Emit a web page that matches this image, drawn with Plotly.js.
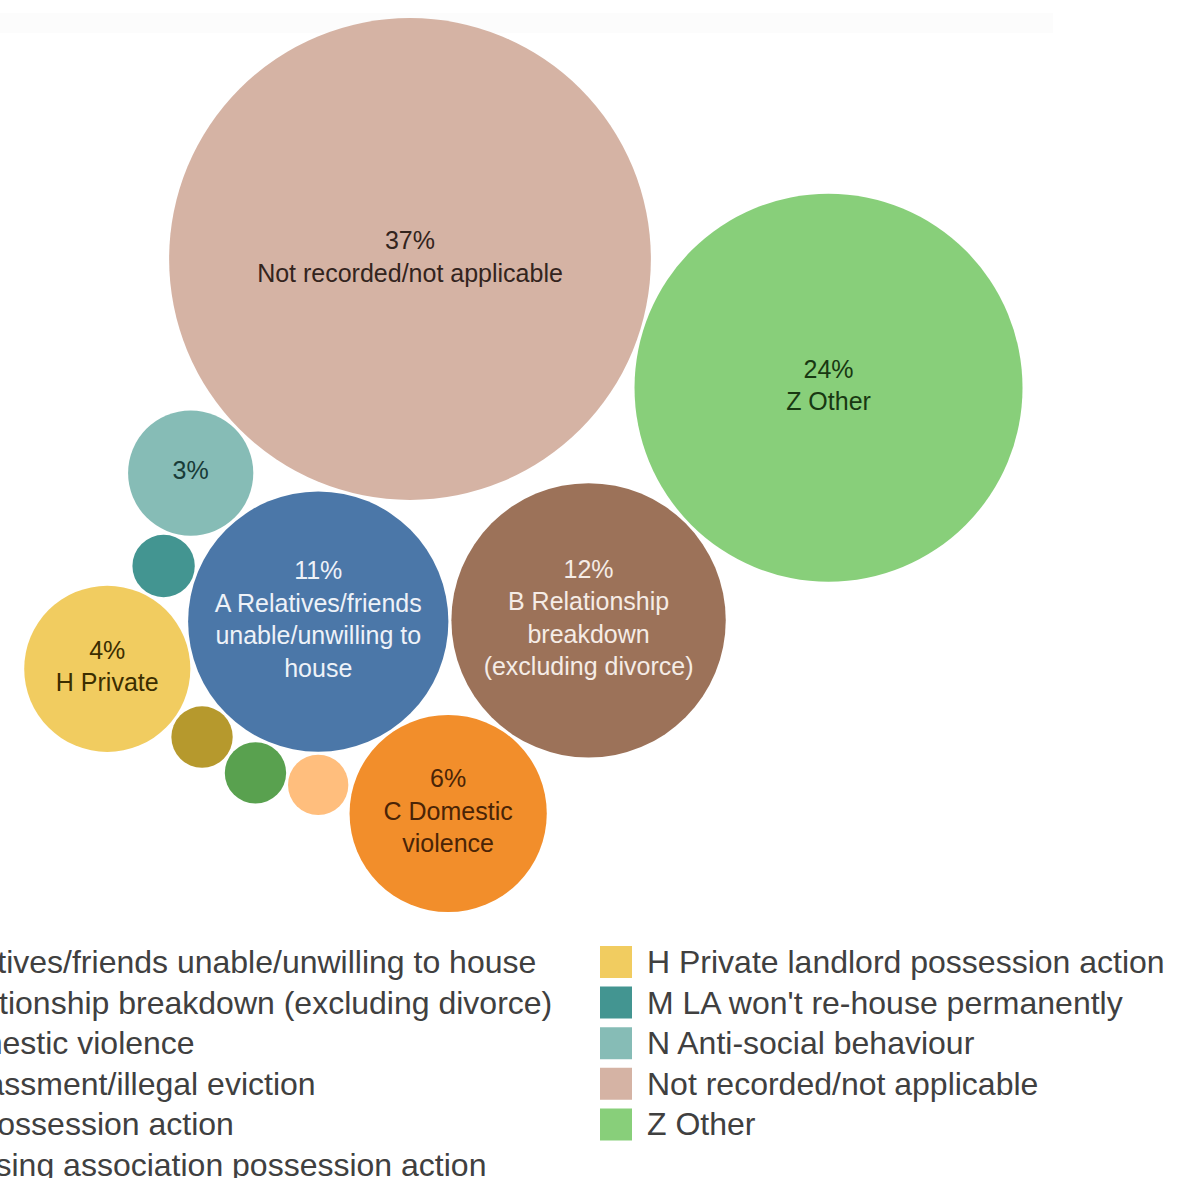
<!DOCTYPE html>
<html>
<head>
<meta charset="utf-8">
<script src="https://cdn.plot.ly/plotly-3.0.1.min.js"></script>
<style>
  html, body { margin: 0; padding: 0; background: #ffffff; overflow: hidden; }
  #chart { width: 1184px; height: 1178px; }
</style>
</head>
<body>
<div id="chart"></div>
<script>
// ---------------- DATA ----------------
const categories = [
  "Not recorded/not applicable",
  "Z Other",
  "A Relatives/friends unable/unwilling to house",
  "B Relationship breakdown (excluding divorce)",
  "C Domestic violence",
  "N Anti-social behaviour",
  "M LA won't re-house permanently",
  "H Private landlord possession action",
  "G Housing association possession action",
  "E LA possession action",
  "D Harassment/illegal eviction"
];
// share of cases, %
const shares = [37, 24, 10.8, 12, 6.2, 2.5, 0.62, 4.4, 0.6, 0.6, 0.58];
// text shown inside each bubble under the percentage
const bubbleLabels = [
  "Not recorded/not applicable",
  "Z Other",
  "A Relatives/friends<br>unable/unwilling to<br>house",
  "B Relationship<br>breakdown<br>(excluding divorce)",
  "C Domestic<br>violence",
  "",
  "",
  "H Private",
  "",
  "",
  ""
];
// legend entries (two columns)
const legendLeft = [
  "A Relatives/friends unable/unwilling to house",
  "B Relationship breakdown (excluding divorce)",
  "C Domestic violence",
  "D Harassment/illegal eviction",
  "E LA possession action",
  "G Housing association possession action"
];
const legendRight = [
  "H Private landlord possession action",
  "M LA won't re-house permanently",
  "N Anti-social behaviour",
  "Not recorded/not applicable",
  "Z Other"
];

// ---------------- STYLE ----------------
const colorOf = {
  "Not recorded/not applicable": "#D5B3A4",
  "Z Other": "#88CF7A",
  "A Relatives/friends unable/unwilling to house": "#4B77A8",
  "B Relationship breakdown (excluding divorce)": "#9C7259",
  "C Domestic violence": "#F28E2B",
  "N Anti-social behaviour": "#86BCB6",
  "M LA won't re-house permanently": "#439591",
  "H Private landlord possession action": "#F1CC60",
  "G Housing association possession action": "#B6992D",
  "E LA possession action": "#59A14F",
  "D Harassment/illegal eviction": "#FFBE7D"
};
const textColorOf = {
  "Not recorded/not applicable": "#33241d",
  "Z Other": "#183812",
  "A Relatives/friends unable/unwilling to house": "#eef2f8",
  "B Relationship breakdown (excluding divorce)": "#f5ece6",
  "C Domestic violence": "#4a2406",
  "N Anti-social behaviour": "#183b38",
  "H Private landlord possession action": "#3b2d00"
};

const W = 1184, H = 1178;
const K = 39.6;        // px of radius per sqrt(%)
const PAD = 3;         // gap between neighbouring bubbles (px)

// packing topology: each bubble touches its parent(s)
const packing = [
  {root: true},
  {from: 0, angle: -17.1},
  {from: 0, angle: -104.2},
  {between: [2, 1]},
  {between: [2, 3]},
  {between: [0, 2]},
  {between: [5, 2]},
  {between: [6, 2]},
  {between: [7, 2]},
  {between: [8, 2]},
  {between: [9, 2]}
];

// ---------------- LAYOUT COMPUTATION ----------------
const radius = shares.map(v => K * Math.sqrt(v));
const cx = new Array(shares.length), cy = new Array(shares.length);
packing.forEach((p, i) => {
  if (p.root) { cx[i] = 0; cy[i] = 0; return; }
  if (p.from !== undefined) {
    const d = radius[p.from] + radius[i] + PAD;
    const a = p.angle * Math.PI / 180;
    cx[i] = cx[p.from] + d * Math.cos(a);
    cy[i] = cy[p.from] + d * Math.sin(a);
    return;
  }
  const [P, Q] = p.between;
  const a = radius[P] + radius[i] + PAD, b = radius[Q] + radius[i] + PAD;
  const dx = cx[Q] - cx[P], dy = cy[Q] - cy[P];
  const d = Math.hypot(dx, dy);
  const ux = dx / d, uy = dy / d;
  const x = (a * a - b * b + d * d) / (2 * d);
  const h = Math.sqrt(Math.max(0, a * a - x * x));
  // place on the right-hand side of P -> Q
  cx[i] = cx[P] + x * ux + h * uy;
  cy[i] = cy[P] + x * uy - h * ux;
});

const texts = shares.map((v, i) =>
  v >= 2 ? (Math.round(v) + "%" + (bubbleLabels[i] ? "<br>" + bubbleLabels[i] : "")) : "");

const bubbleTrace = {
  type: "scatter",
  mode: "markers+text",
  x: cx,
  y: cy,
  text: texts,
  customdata: categories,
  hovertemplate: "%{customdata}<extra></extra>",
  textposition: "middle center",
  textfont: {
    family: "Liberation Sans, Arial, sans-serif",
    size: 25,
    color: categories.map(c => textColorOf[c] || "#222")
  },
  marker: {
    size: shares,
    sizemode: "area",
    // marker diameter = 2*K*sqrt(share)
    sizeref: 1 / (2 * K * K),
    color: categories.map(c => colorOf[c]),
    opacity: 1,
    line: {width: 0}
  },
  showlegend: false,
  cliponaxis: false
};

// ---------------- MANUAL LEGEND ----------------
const FONT = "Liberation Sans, Arial, sans-serif";
const LEG_SIZE = 32;
const px2x = v => v / W, px2y = v => 1 - v / H;
const shapes = [
  {type: "rect", xref: "paper", yref: "paper", x0: px2x(0), x1: px2x(1053), y0: px2y(33), y1: px2y(13),
   fillcolor: "#fcfcfc", line: {width: 0}, layer: "below"}
];
const annotations = [];

function measure(str) {
  const c = document.createElement("canvas").getContext("2d");
  c.font = LEG_SIZE + "px 'Liberation Sans', Arial, sans-serif";
  return c.measureText(str).width;
}
const rowY = i => 962 + 40.6 * i;
const rightTextX = 646;
const leftTextX = -measure("A Rela") - 2;
const SW = 32;

function addEntry(label, textX, row) {
  const y = rowY(row);
  const sx1 = textX - 14, sx0 = sx1 - SW;
  shapes.push({type: "rect", xref: "paper", yref: "paper",
    x0: px2x(sx0), x1: px2x(sx1), y0: px2y(y + SW / 2), y1: px2y(y - SW / 2),
    fillcolor: colorOf[label], line: {width: 0}});
  annotations.push({xref: "paper", yref: "paper", x: px2x(textX), y: px2y(y),
    xanchor: "left", yanchor: "middle", showarrow: false, text: label,
    borderpad: 0, font: {family: FONT, size: LEG_SIZE, color: "#404040"}});
}
legendLeft.forEach((l, i) => addEntry(l, leftTextX, i));
legendRight.forEach((l, i) => addEntry(l, rightTextX, i));

// place the root bubble's centre on the page
const rootX = 410, rootY = 259;
const layout = {
  width: W, height: H,
  margin: {l: 0, r: 0, t: 0, b: 0},
  paper_bgcolor: "#ffffff",
  plot_bgcolor: "#ffffff",
  xaxis: {visible: false, range: [-rootX, W - rootX], fixedrange: true},
  yaxis: {visible: false, range: [-(H - rootY), rootY], fixedrange: true},
  showlegend: false,
  shapes: shapes,
  annotations: annotations,
  font: {family: FONT}
};

Plotly.newPlot("chart", [bubbleTrace], layout, {displayModeBar: false, staticPlot: true});
</script>
</body>
</html>
